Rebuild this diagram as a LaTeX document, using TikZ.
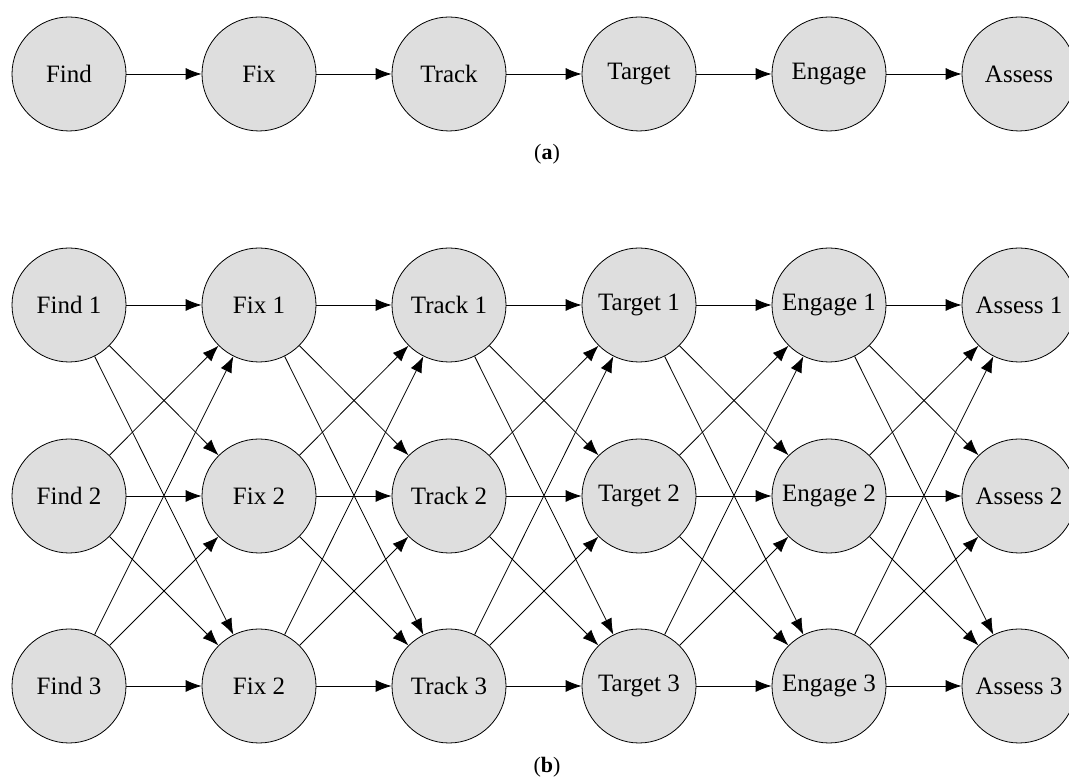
\documentclass[tikz,border=0pt]{standalone}
\usepackage{fontspec}
\setmainfont{Liberation Serif}
\usetikzlibrary{arrows.meta}
\begin{document}
\begin{tikzpicture}[x=1pt,y=1pt,
  stage/.style={circle,draw=black,line width=0.8pt,fill={rgb,255:red,222;green,222;blue,222},
    minimum size=114pt,inner sep=0pt,font=\fontsize{25}{28}\selectfont},
  arr/.style={line width=0.8pt,-{Latex[length=16pt,width=12pt]}},
  sublabel/.style={font=\fontsize{22}{24}\selectfont}]
\useasboundingbox (0,0) rectangle (1069,778);
% (a)
\foreach \n [count=\i from 0] in {Find,Fix,Track,Target,Engage,Assess}{
  \node[stage] (a\i) at (69+190*\i,704) {\n};
}
\foreach \i [evaluate=\i as \j using int(\i+1)] in {0,...,4}{
  \draw[arr] (a\i) -- (a\j);
}
\node[sublabel,anchor=base] (la) at (547,618) {(\textbf{a})};
% (b)
\foreach \n [count=\i from 0] in {Find,Fix,Track,Target,Engage,Assess}{
  \node[stage] (b\i1) at (69+190*\i,473) {\n\ 1};
  \node[stage] (b\i2) at (69+190*\i,282) {\n\ 2};
}
\foreach \n [count=\i from 0] in {Find 3,Fix 2,Track 3,Target 3,Engage 3,Assess 3}{
  \node[stage] (b\i3) at (69+190*\i,92) {\n};
}
\foreach \i [evaluate=\i as \j using int(\i+1)] in {0,...,4}{
  \foreach \r in {1,2,3}{
    \foreach \s in {1,2,3}{
      \draw[arr] (b\i\r) -- (b\j\s);
    }
  }
}
\node[sublabel,anchor=base] (lb) at (547,5) {(\textbf{b})};
\end{tikzpicture}
\end{document}
